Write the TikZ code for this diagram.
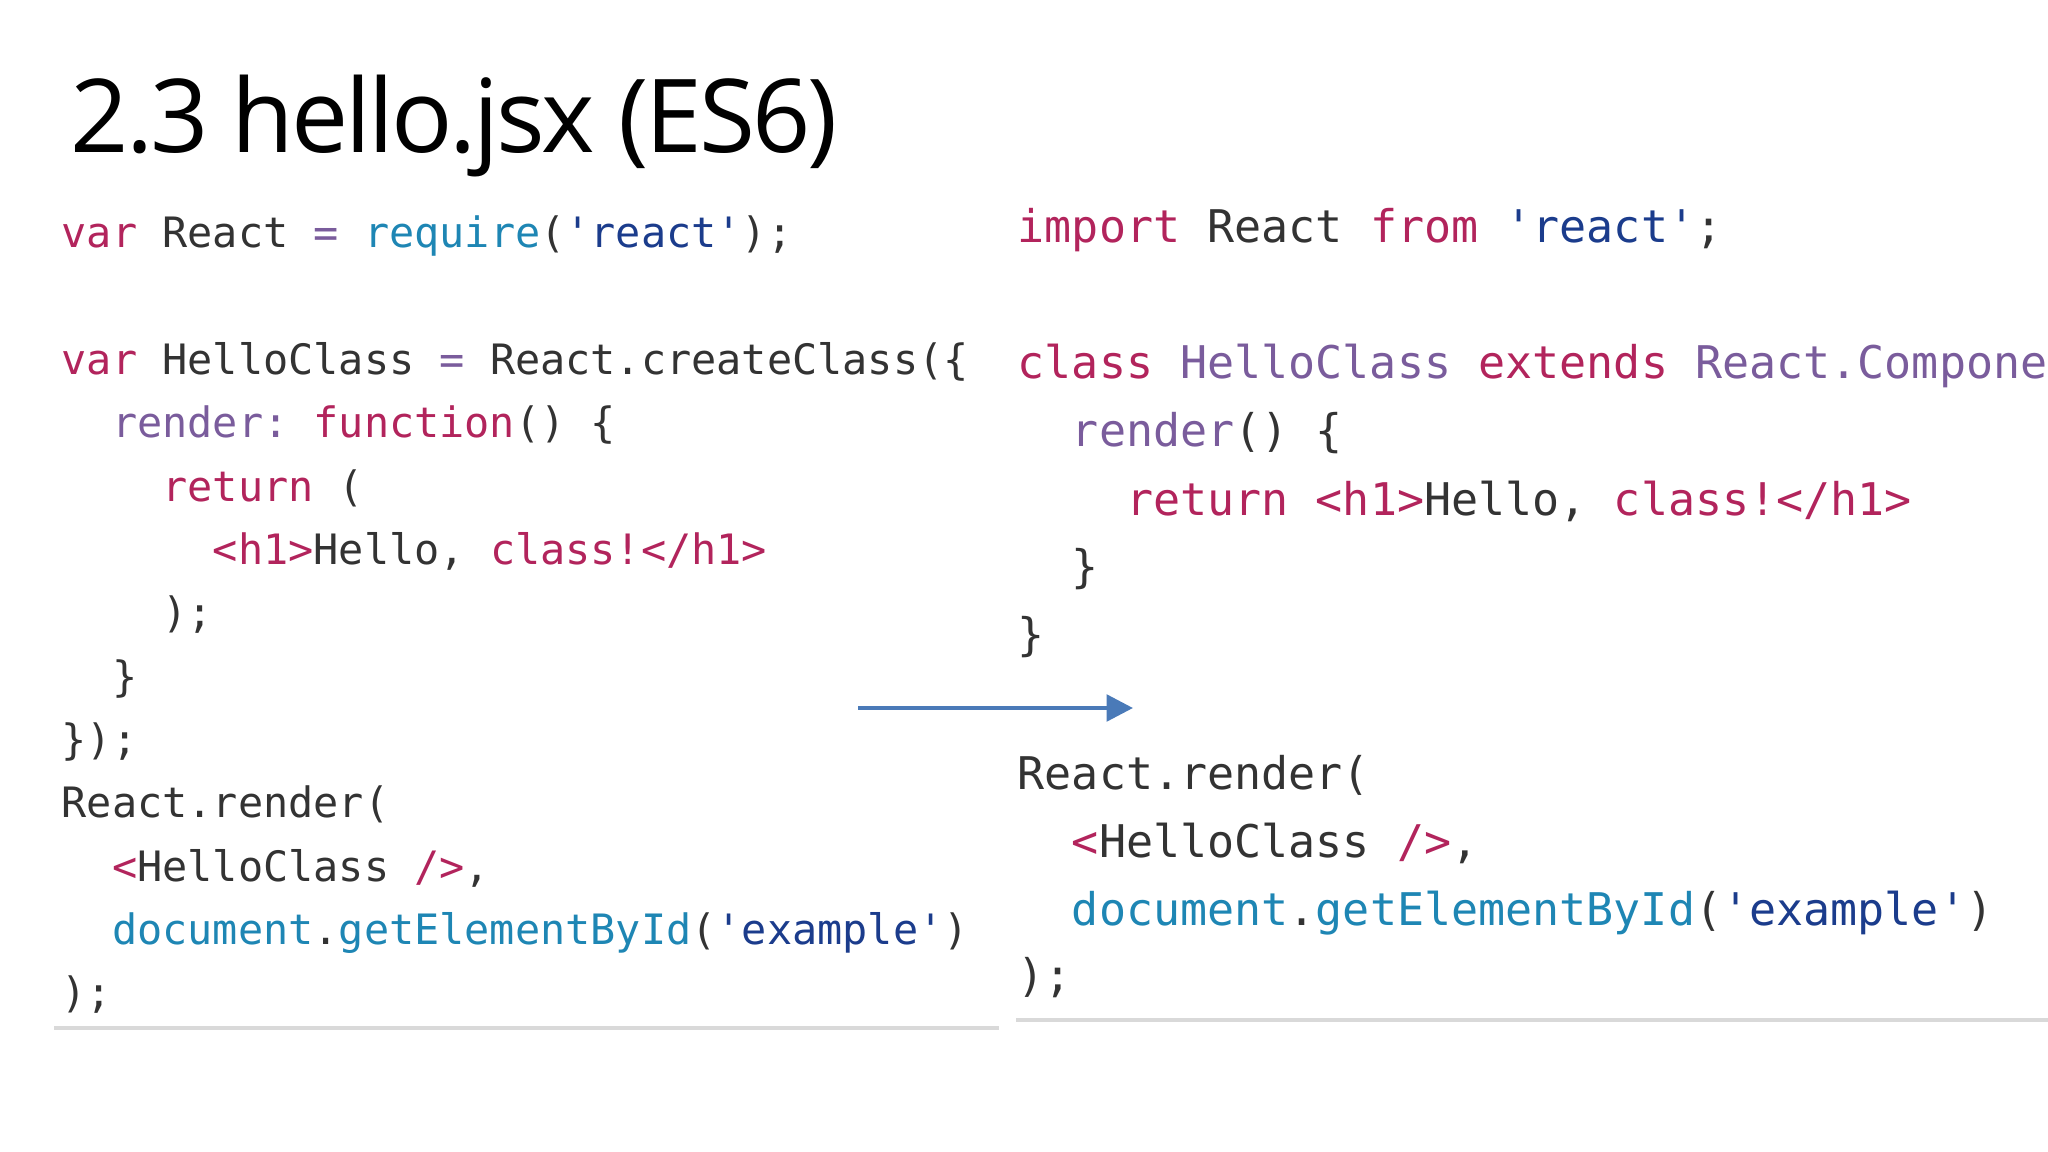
\documentclass[tikz,border=0pt]{standalone}
\usepackage{fontspec}
\setmainfont{Open Sans}
\newfontfamily\codefont{DejaVu Sans Mono}
\usetikzlibrary{arrows.meta}
\frenchspacing
\definecolor{ckw}{HTML}{B2245C}
\definecolor{cpr}{HTML}{7A5C9C}
\definecolor{cfn}{HTML}{1E86B4}
\definecolor{cst}{HTML}{1B3C8C}
\definecolor{cpl}{HTML}{333333}
\definecolor{carrow}{HTML}{4A7AB8}
\newcommand{\K}[1]{\textcolor{ckw}{#1}}
\newcommand{\Pu}[1]{\textcolor{cpr}{#1}}
\newcommand{\F}[1]{\textcolor{cfn}{#1}}
\newcommand{\St}[1]{\textcolor{cst}{#1}}
\tikzset{
 lcode/.style={anchor=base west,inner sep=0pt,text=cpl,font=\codefont\fontsize{11.9}{14}\selectfont},
 rcode/.style={anchor=base west,inner sep=0pt,text=cpl,font=\codefont\fontsize{12.8}{15}\selectfont},
 rule/.style={draw=black!15,line width=1.2pt}
}
\begin{document}
\begin{tikzpicture}[x=0.01cm,y=-0.01cm]
\useasboundingbox (0,0) rectangle (2048,1152);
\clip (0,0) rectangle (2048,1152);
\node[anchor=base west,inner sep=0pt,font=\fontsize{29}{34}\selectfont\addfontfeature{LetterSpace=-3}] (title) at (70,153) {2.3 hello.jsx (ES6)};
% left code
\def\lx{61}
\node[lcode] (l0) at (\lx,248) {\K{var} React \Pu{=} \F{require}(\St{'react'});};
\node[lcode] (l2) at (\lx,374.6) {\K{var} HelloClass \Pu{=} React.createClass(\{};
\node[lcode] (l3) at (\lx,437.9) {~~\Pu{render:} \K{function}() \{};
\node[lcode] (l4) at (\lx,501.2) {~~~~\K{return} (};
\node[lcode] (l5) at (\lx,564.5) {~~~~~~\K{<h1>}Hello, \K{class!</h1>}};
\node[lcode] (l6) at (\lx,627.8) {~~~~);};
\node[lcode] (l7) at (\lx,691.1) {~~\}};
\node[lcode] (l8) at (\lx,754.4) {\});};
\node[lcode] (l9) at (\lx,817.7) {React.render(};
\node[lcode] (l10) at (\lx,881) {~~\K{<}HelloClass \K{/>},};
\node[lcode] (l11) at (\lx,944.3) {~~\F{document}.\F{getElementById}(\St{'example'})};
\node[lcode] (l12) at (\lx,1007.6) {);};
% right code
\def\rx{1017}
\node[rcode] (r0) at (\rx,243) {\K{import} React \K{from} \St{'react'};};
\node[rcode] (r2) at (\rx,379) {\K{class} \Pu{HelloClass} \K{extends} \Pu{React.Component} \{};
\node[rcode] (r3) at (\rx,447) {~~\Pu{render}() \{};
\node[rcode] (r4) at (\rx,515) {~~~~\K{return} \K{<h1>}Hello, \K{class!</h1>}};
\node[rcode] (r5) at (\rx,583) {~~\}};
\node[rcode] (r6) at (\rx,650) {\}};
\node[rcode] (r8) at (\rx,789) {React.render(};
\node[rcode] (r9) at (\rx,857) {~~\K{<}HelloClass \K{/>},};
\node[rcode] (r10) at (\rx,925) {~~\F{document}.\F{getElementById}(\St{'example'})};
\node[rcode] (r11) at (\rx,991) {);};
% rules
\coordinate (la) at (54,1028); \coordinate (lb) at (999,1028);
\coordinate (ra) at (1016,1020); \coordinate (rb) at (2048,1020);
\draw[rule] (la) -- (lb);
\draw[rule] (ra) -- (rb);
% arrow
\coordinate (aa) at (858,708); \coordinate (ab) at (1133,708);
\draw[carrow,line width=1.2pt,-{Triangle[length=7.5pt,width=7.5pt]}] (aa) -- (ab);
\end{tikzpicture}
\end{document}
